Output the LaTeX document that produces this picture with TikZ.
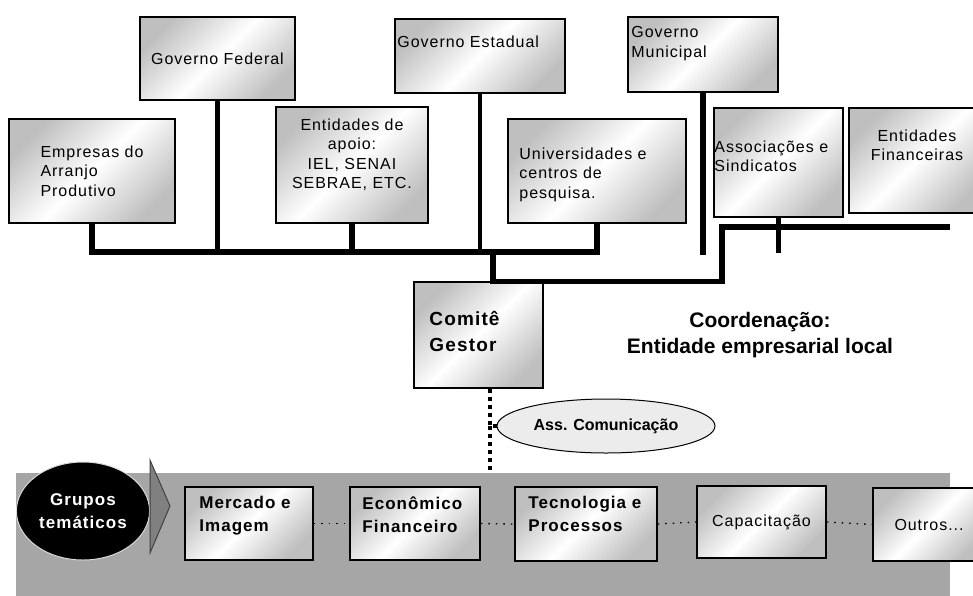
\documentclass[tikz,border=0pt]{standalone}
\usepackage{fontspec}
\setmainfont{Liberation Sans}
\newfontfamily\spaced{Liberation Sans}[LetterSpace=6]
\usetikzlibrary{shapes.geometric}
\tikzset{bx/.style={draw,line width=1.5pt,top color=gray!50,bottom color=gray!50,middle color=white,shading angle=45,inner sep=0pt}}
\tikzset{sz/.style 2 args={minimum width=#1pt,minimum height=#2pt}}
\tikzset{ln/.style={line width=5.5pt}}
\tikzset{dl/.style={line width=3.5pt,dash pattern=on 4pt off 4pt}}
\tikzset{pt/.style={line width=1.3pt,dash pattern=on 1.5pt off 6pt}}
\tikzset{tx/.style={font=\spaced\fontsize{16}{19.5}\selectfont}}
\tikzset{tb/.style={font=\spaced\bfseries\fontsize{17}{23}\selectfont}}
\tikzset{tl/.style={anchor=north west,inner sep=0pt,align=left}}
\tikzset{tc/.style={anchor=north,inner sep=0pt,align=center}}

\begin{document}
\begin{tikzpicture}[x=1pt,y=-1pt]
        \clip (0,0) rectangle (973,595);
        \fill[white] (0,0) rectangle (973,595);
        \node[bx,sz={166}{104},tx,align=left] (emp) at (92,171) {Empresas do\\Arranjo\\Produtivo};
        \node[bx,sz={155}{83},tx] (gfed) at (217.5,58.5) {Governo Federal};
        \node[bx,sz={170}{74},label={[tl,tx,xshift=3pt,yshift=-17pt]north west:Governo Estadual}] (gest) at (480,56) {};
        \node[bx,sz={152}{116},label={[tc,tx,yshift=-12pt]north:{Entidades de\\apoio:\\IEL, SENAI\\SEBRAE, ETC.}}] (ent) at (352,165) {};
        \node[bx,sz={178}{104},label={[tl,tx,xshift=12pt,yshift=-29pt]north west:{Universidades e\\centros de\\pesquisa.}}] (univ) at (597,171) {};
        \node[bx,sz={150}{75},label={[tl,tx,xshift=4pt,yshift=-10pt]north west:{Governo\\Municipal}}] (gmun) at (703,54.5) {};
        \node[bx,sz={129}{109},label={[tl,tx,xshift=1pt,yshift=-33pt]north west:{Associações e\\Sindicatos}}] (assoc) at (778.5,162.5) {};
        \node[bx,sz={136}{105},label={[tc,tx,yshift=-22pt]north:{Entidades\\Financeiras}}] (fin) at (917,160.5) {};
        \node[bx,sz={129}{106},label={[tl,font=\spaced\bfseries\fontsize{19}{26}\selectfont,xshift=16pt,yshift=-30pt]north west:{Comitê\\Gestor}}] (comite) at (478.5,335) {};
        \node[font=\bfseries\fontsize{21}{26}\selectfont,align=center] (coord) at (760,335) {Coordenação:\\Entidade empresarial local};
        \node[ellipse,draw,line width=1pt,fill=gray!15,sz={218}{54},font=\bfseries\fontsize{16}{18}\selectfont] (aco) at (606,426) {Ass. Comunicação};
        \coordinate (bar) at (0,252);
        \coordinate (cj) at (493,252);
        \coordinate (dg) at (722,227);
        \coordinate (fim) at (950,227);
        \draw[ln] (emp.south) -- (emp.south |- bar) -| (univ.south);
        \draw[ln] (gfed.south) -- (gfed.south |- bar);
        \draw[ln] (ent.south) -- (ent.south |- bar);
        \draw[ln,line width=4pt] (gest.south) -- (gest.south |- bar);
        \draw[ln] (cj) -- (cj |- comite.north) -| (dg) -- (fim);
        \draw[ln] (gmun.south) -- (gmun.south |- 0,255);
        \draw[ln] (assoc.south) -- (assoc.south |- 0,253);
        \node[fill=black!35,sz={934}{130},inner sep=0pt] (band) at (483,538) {};
        \coordinate (dj) at (490,426);
        \draw[dl] (comite.south -| dj) -- (dj) -- (aco.west);
        \draw[dl] (dj) -- (dj |- band.north);
        \node[ellipse,fill=black,draw=gray!30,line width=1pt,sz={111}{98},text=white,align=center,font=\spaced\bfseries\fontsize{17}{23}\selectfont] (grp) at (83,511) {Grupos\\temáticos};
        \filldraw[fill=black!50,draw=black!75,line width=1pt] (150,460) -- (170,506) -- (150,553) -- cycle;
        \node[bx,sz={128}{73},label={[tl,tb,xshift=15pt,yshift=-10pt]north west:{Mercado e\\Imagem}}] (merc) at (249,523.5) {};
        \node[bx,sz={130}{73},label={[tl,tb,xshift=13pt,yshift=-10pt]north west:{Econômico\\Financeiro}}] (econ) at (415,523.5) {};
        \node[bx,sz={142}{74},label={[tl,tb,xshift=14pt,yshift=-10pt]north west:{Tecnologia e\\Processos}}] (tec) at (586,524) {};
        \node[bx,sz={129}{72},tx] (cap) at (761.5,522) {Capacitação};
        \node[bx,sz={112}{73},tx] (outros) at (929,524.5) {Outros...};
        \draw[pt] (merc.east) -- (econ.west);
        \draw[pt] (econ.east) -- (tec.west);
        \draw[pt] (tec.east) -- (cap.west);
        \draw[pt] (cap.east) -- (outros.west);
      \end{tikzpicture}
\end{document}
